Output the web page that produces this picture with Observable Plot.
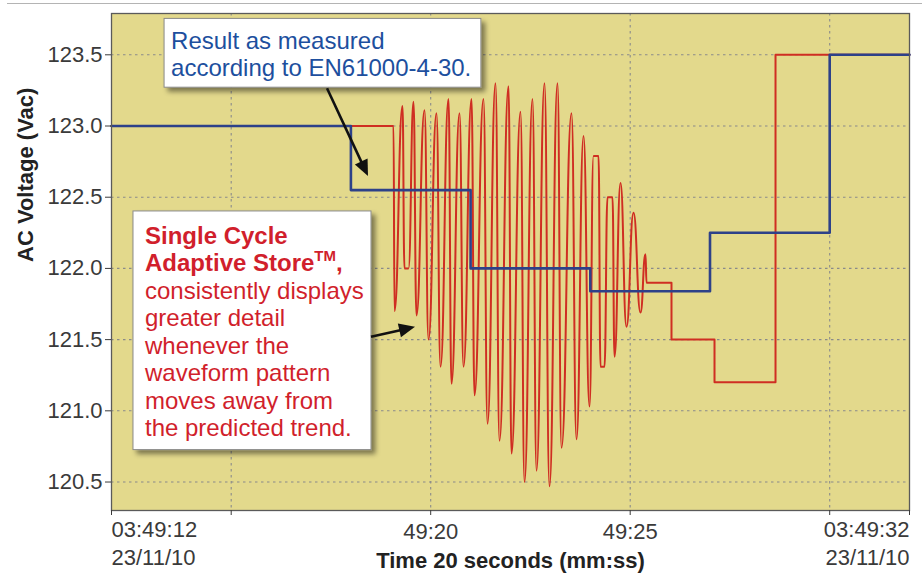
<!DOCTYPE html>
<html><head><meta charset="utf-8">
<script src="https://cdn.jsdelivr.net/npm/d3@7"></script>
<script src="https://cdn.jsdelivr.net/npm/@observablehq/plot@0.6"></script>
<style>
html,body{margin:0;padding:0;background:#fff;}
#wrap{position:relative;width:922px;height:573px;overflow:hidden;}
#topline{position:absolute;left:7px;right:0;top:3px;border-top:1px solid #b4b4b4;}
#wrap svg{font-family:"Liberation Sans", Arial, Helvetica, sans-serif;display:block;}
</style></head><body><div id="wrap"><div id="topline"></div></div>
<script>
// ---- Data (time in seconds after 03:49:00, voltage in Vac) ----
const blueTimes = [12, 18, 21, 24, 27, 30, 32];
const blueVolts = [123.0, 122.55, 122.0, 121.84, 122.25, 123.5, 123.5];

const redTimes = [12, 19.068, 19.093, 19.293, 19.343, 19.444, 19.569, 19.644, 19.845, 19.945,
  20.145, 20.246, 20.446, 20.521, 20.722, 20.822, 21.023, 21.098, 21.323, 21.424,
  21.624, 21.724, 21.950, 22.025, 22.251, 22.351, 22.551, 22.652, 22.852, 22.977,
  23.178, 23.278, 23.529, 23.654, 23.830, 23.980, 24.080, 24.206, 24.256, 24.356,
  24.431, 24.556, 24.607, 24.757, 24.907, 25.083, 25.258, 25.383, 25.409, 26.035,
  26.035, 27.113, 27.113, 28.642, 28.642, 32];
const redVolts = [123.0, 123.0, 121.70, 123.14, 122.0, 122.0, 123.17, 121.67, 123.11, 121.50,
  123.09, 121.31, 123.19, 121.19, 123.09, 121.31, 123.19, 121.11, 123.19, 120.91,
  123.30, 120.79, 123.28, 120.70, 123.10, 120.50, 123.19, 120.58, 123.30, 120.47,
  123.30, 120.74, 123.09, 120.80, 122.93, 121.03, 122.79, 122.79, 121.31, 121.31,
  122.50, 122.50, 121.38, 122.60, 121.59, 122.39, 121.69, 122.10, 121.90, 121.90,
  121.50, 121.50, 121.20, 121.20, 123.50, 123.50];

const yTicks = [120.5, 121.0, 121.5, 122.0, 122.5, 123.0, 123.5];
const xTicks = [12, 15, 20, 25, 30, 32];
const xTickLabels = ["", "", "49:20", "49:25", "", ""];
const xEndTimes = [12, 32];
const xEndLabels = ["03:49:12\n23/11/10", "03:49:32\n23/11/10"];
const yTitle = "AC Voltage (Vac)";
const xTitle = "Time 20 seconds (mm:ss)";
const blueNote = ["Result as measured", "according to EN61000-4-30."];
const redNoteBold = ["Single Cycle", "Adaptive Store"];
const redNoteSup = "TM";
const redNote = ["consistently displays", "greater detail", "whenever the", "waveform pattern", "moves away from", "the predicted trend."];

// ---- Build ----
const red = redTimes.map((t, i) => ({t, v: redVolts[i]}));
const blue = blueTimes.map((t, i) => ({t, v: blueVolts[i]}));
const tickLabelMap = new Map(xTicks.map((t, i) => [t, xTickLabels[i]]));
const ends = xEndTimes.map((t, i) => ({t, label: xEndLabels[i]}));
const FONT = '"Liberation Sans", Arial, Helvetica, sans-serif';

const chart = Plot.plot({
  width: 922, height: 573,
  marginLeft: 111, marginRight: 13, marginTop: 13, marginBottom: 63,
  style: {fontFamily: FONT, background: "transparent", color: "#3a3a3a", overflow: "visible"},
  x: {domain: [12, 32]},
  y: {domain: [120.3, 123.79]},
  marks: [
    Plot.frame({fill: "#e3d98c"}),
    Plot.ruleY(yTicks, {stroke: "#8a8a8a", strokeDasharray: "2.5,3.5", strokeWidth: 1.1}),
    Plot.ruleX(xTicks.slice(1, -1), {stroke: "#8a8a8a", strokeDasharray: "2.5,3.5", strokeWidth: 1.1}),
    Plot.line(red, {x: "t", y: "v", stroke: "#cf2e22", strokeWidth: 2, curve: "bump-x"}),
    Plot.line(blue, {x: "t", y: "v", stroke: "#2d4189", strokeWidth: 2.6, curve: "step-after"}),
    Plot.frame({stroke: "#5a5a5a", strokeWidth: 1.3}),
    Plot.axisY(yTicks, {tickSize: 6, tickPadding: 3, fontSize: 22, tickFormat: d3.format(".1f"), label: null}),
    Plot.axisX(xTicks, {tickSize: 5, tickPadding: 8, fontSize: 22, tickFormat: d => tickLabelMap.get(d), label: null}),
    Plot.text(ends.slice(0, 1), {x: "t", text: "label", frameAnchor: "bottom", textAnchor: "start", lineAnchor: "top", dy: 6, lineHeight: 1.3, fontSize: 22, fill: "#3a3a3a"}),
    Plot.text(ends.slice(1), {x: "t", text: "label", frameAnchor: "bottom", textAnchor: "end", lineAnchor: "top", dy: 6, lineHeight: 1.3, fontSize: 22, fill: "#3a3a3a"}),
    Plot.text([yTitle], {frameAnchor: "left", rotate: -90, dx: -86, fontSize: 22, fontWeight: "bold", fill: "#222"}),
    Plot.text([xTitle], {frameAnchor: "bottom", lineAnchor: "top", dy: 42, fontSize: 22, fontWeight: "bold", fill: "#222"})
  ]
});
document.getElementById("wrap").appendChild(chart);

// ---- Annotations (placed in data coordinates through the plot's scales) ----
const sx = chart.scale("x"), sy = chart.scale("y");
const X = t => sx.apply(t), Y = v => sy.apply(v);
const svg = d3.select(chart);
const defs = svg.append("defs");
defs.append("filter").attr("id", "shadow").attr("x", "-10%").attr("y", "-10%").attr("width", "130%").attr("height", "140%")
  .append("feDropShadow").attr("dx", 4).attr("dy", 4).attr("stdDeviation", 2.5)
  .attr("flood-color", "#000").attr("flood-opacity", 0.45);
const ann = svg.append("g").attr("font-family", FONT).attr("text-anchor", "start");

function arrow(t0, v0, t1, v1) {
  const x0 = X(t0), y0 = Y(v0), x1 = X(t1), y1 = Y(v1);
  const dx = x1 - x0, dy = y1 - y0, L = Math.hypot(dx, dy), ux = dx / L, uy = dy / L;
  const hl = 16, hw = 7;
  const bx = x1 - ux * hl, by = y1 - uy * hl;
  ann.append("line").attr("x1", x0).attr("y1", y0).attr("x2", bx + ux * 2).attr("y2", by + uy * 2)
    .attr("stroke", "#111").attr("stroke-width", 2.6);
  ann.append("polygon").attr("fill", "#111")
    .attr("points", [[x1, y1], [bx - uy * hw, by + ux * hw], [bx + uy * hw, by - ux * hw]].map(p => p.join(",")).join(" "));
}

// blue note box
{
  const x0 = X(13.33), y0 = Y(123.752), x1 = X(21.27), y1 = Y(123.269);
  ann.append("rect").attr("x", x0).attr("y", y0).attr("width", x1 - x0).attr("height", y1 - y0)
    .attr("fill", "#fff").attr("stroke", "#8a8a8a").attr("stroke-width", 1).attr("filter", "url(#shadow)");
  blueNote.forEach((s, i) => ann.append("text").attr("x", x0 + 7).attr("y", y0 + 31 + i * 26.7)
    .attr("font-size", 24).attr("fill", "#1d4f9e").text(s));
}
arrow(17.414, 123.262, 18.441, 122.645);

// red note box
{
  const x0 = X(12.551), y0 = Y(122.400), x1 = X(18.516), y1 = Y(120.724);
  ann.append("rect").attr("x", x0).attr("y", y0).attr("width", x1 - x0).attr("height", y1 - y0)
    .attr("fill", "#fff").attr("stroke", "#8a8a8a").attr("stroke-width", 1).attr("filter", "url(#shadow)");
  const lh = 27.5, bx = x0 + 12, by = y0 + 33;
  ann.append("text").attr("x", bx).attr("y", by).attr("font-size", 24).attr("font-weight", "bold")
    .attr("fill", "#d11f2c").text(redNoteBold[0]);
  const t2 = ann.append("text").attr("x", bx).attr("y", by + lh).attr("font-size", 24).attr("font-weight", "bold").attr("fill", "#d11f2c");
  t2.append("tspan").text(redNoteBold[1]);
  t2.append("tspan").attr("font-size", 15).attr("dy", -10).text(redNoteSup);
  t2.append("tspan").attr("dy", 10).text(",");
  redNote.forEach((s, i) => ann.append("text").attr("x", bx).attr("y", by + (i + 2) * lh)
    .attr("font-size", 24).attr("fill", "#d11f2c").text(s));
}
arrow(18.516, 121.516, 19.619, 121.586);
</script></body></html>
